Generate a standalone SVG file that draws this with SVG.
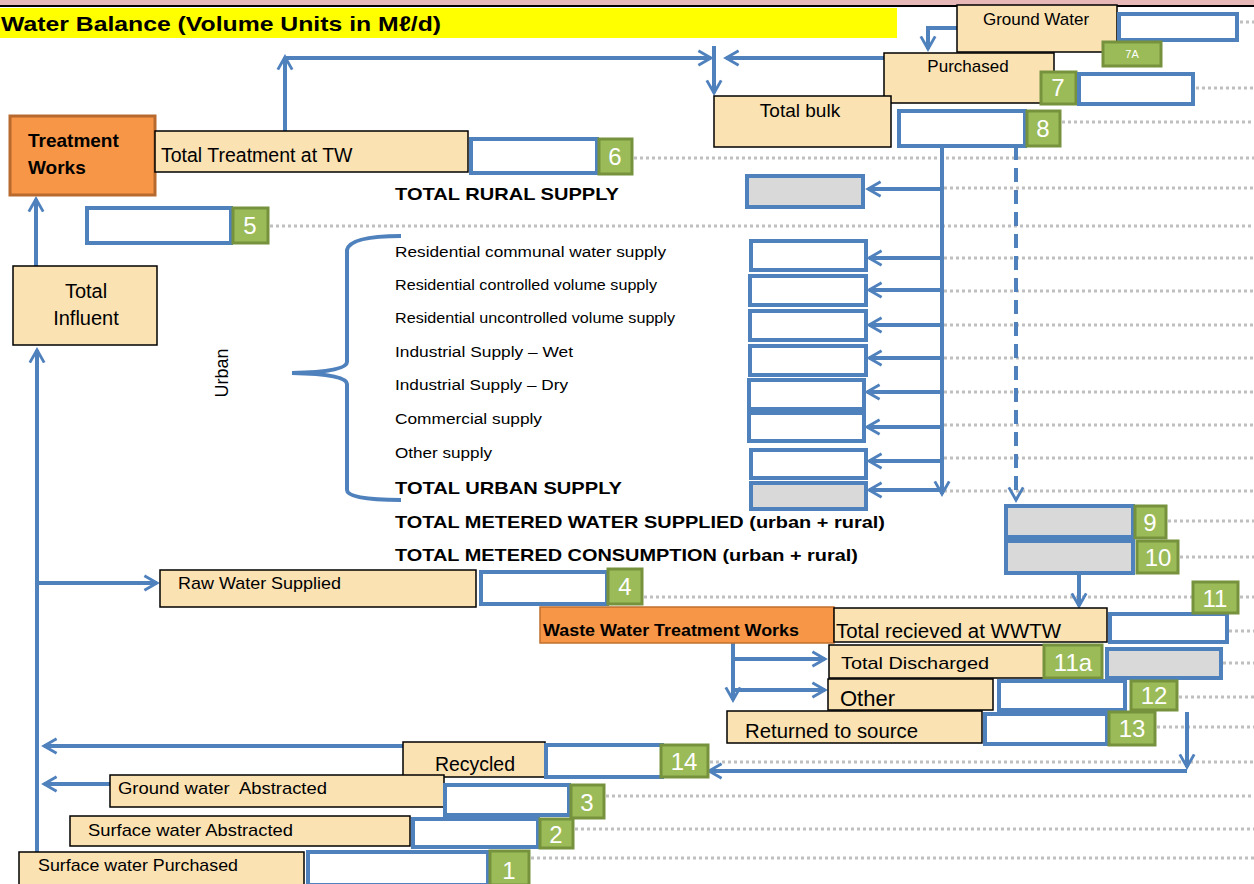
<svg xmlns="http://www.w3.org/2000/svg" width="1254" height="884" viewBox="0 0 1254 884">
<style>
.tan{fill:#FAE2B3;stroke:#000;stroke-width:1.5}
.box{fill:#fff;stroke:#4F81BD;stroke-width:4}
.gbox{fill:#D9D9D9;stroke:#4F81BD;stroke-width:4}
.badge{fill:#9BBB59;stroke:#76923C;stroke-width:3}
.bt{font-family:"Liberation Sans",Arial,sans-serif;fill:#fff;font-size:21px;text-anchor:middle}
.lbl{font-family:"Liberation Sans",Arial,sans-serif;fill:#000;font-size:17px}
.lst{font-family:"Liberation Sans",Arial,sans-serif;fill:#000;font-size:15.5px}
.bold{font-family:"Liberation Sans",Arial,sans-serif;fill:#000;font-size:17px;font-weight:bold}
.arr{fill:none;stroke:#4F81BD;stroke-width:4;marker-end:url(#ah)}
.ln{fill:none;stroke:#4F81BD;stroke-width:4}
.dot{stroke:#BFBFBF;stroke-width:3;stroke-dasharray:3 3;fill:none}
</style>
<defs>
<marker id="ah" viewBox="0 0 10 10" refX="8" refY="5" markerWidth="4.5" markerHeight="4.5" orient="auto" markerUnits="strokeWidth">
<path d="M1,1 L8,5 L1,9" fill="none" stroke="#4F81BD" stroke-width="1.6"/>
</marker>
</defs>
<rect x="0" y="0" width="1254" height="6" fill="#E6B8B7"/>
<line x1="0" y1="6" x2="1254" y2="6" stroke="#000" stroke-width="2"/>
<g id="title">
<rect x="0" y="8" width="897" height="30" fill="#FFFF00"/>
<text x="1" y="31" font-family="Liberation Sans, Arial, sans-serif" font-weight="bold" font-size="21" textLength="440" lengthAdjust="spacingAndGlyphs">Water Balance (Volume Units in Mℓ/d)</text>
</g>
<g id="leaders">
<line class="dot" x1="1240" y1="22" x2="1254" y2="22"/>
<line class="dot" x1="1196" y1="88" x2="1254" y2="88"/>
<line class="dot" x1="1062" y1="122" x2="1254" y2="122"/>
<line class="dot" x1="634" y1="158" x2="1254" y2="158"/>
<line class="dot" x1="944" y1="188" x2="1254" y2="188"/>
<line class="dot" x1="270" y1="226" x2="1254" y2="226"/>
<line class="dot" x1="944" y1="258" x2="1254" y2="258"/>
<line class="dot" x1="944" y1="291" x2="1254" y2="291"/>
<line class="dot" x1="944" y1="325" x2="1254" y2="325"/>
<line class="dot" x1="944" y1="358" x2="1254" y2="358"/>
<line class="dot" x1="944" y1="392" x2="1254" y2="392"/>
<line class="dot" x1="944" y1="425" x2="1254" y2="425"/>
<line class="dot" x1="944" y1="458" x2="1254" y2="458"/>
<line class="dot" x1="944" y1="491" x2="1254" y2="491"/>
<line class="dot" x1="1168" y1="521" x2="1254" y2="521"/>
<line class="dot" x1="1180" y1="557" x2="1254" y2="557"/>
<line class="dot" x1="644" y1="597" x2="1192" y2="597"/>
<line class="dot" x1="1240" y1="597" x2="1254" y2="597"/>
<line class="dot" x1="1229" y1="631" x2="1254" y2="631"/>
<line class="dot" x1="1223" y1="663" x2="1254" y2="663"/>
<line class="dot" x1="1179" y1="697" x2="1254" y2="697"/>
<line class="dot" x1="1157" y1="727" x2="1254" y2="727"/>
<line class="dot" x1="710" y1="762" x2="1254" y2="762"/>
<line class="dot" x1="606" y1="796" x2="1254" y2="796"/>
<line class="dot" x1="575" y1="829" x2="1254" y2="829"/>
<line class="dot" x1="531" y1="858" x2="1254" y2="858"/>
</g>
<g id="connectors">
<path class="arr" d="M110,784 L44,784"/>
<path class="arr" d="M403,746 L44,746"/>
<path class="arr" d="M37,880 L37,350"/>
<path class="arr" d="M37,583 L157,583"/>
<path class="arr" d="M36,266 L36,199"/>
<path class="arr" d="M285,131 L285,57"/>
<path class="arr" d="M285,58 L711,58"/>
<path class="arr" d="M884,58 L726,58"/>
<path class="arr" d="M714,46 L714,93"/>
<path class="arr" d="M957,28 L928,28 L928,49"/>
<path class="arr" d="M942,146 L942,494"/>
<path class="arr" d="M942,189 L868,189"/>
<path class="arr" d="M942,258 L869,258"/>
<path class="arr" d="M942,290 L869,290"/>
<path class="arr" d="M942,325 L869,325"/>
<path class="arr" d="M942,358 L869,358"/>
<path class="arr" d="M942,392 L867,392"/>
<path class="arr" d="M942,427 L867,427"/>
<path class="arr" d="M942,461 L869,461"/>
<path class="arr" d="M942,490 L869,490"/>
<path class="arr" d="M1016,146 L1016,500" stroke-dasharray="14 8"/>
<path class="arr" d="M1079,574 L1079,606"/>
<path class="arr" d="M733,643 L733,700"/>
<path class="arr" d="M733,659 L825,659"/>
<path class="arr" d="M733,690 L825,690"/>
<path class="arr" d="M1187,712 L1187,767"/>
<path class="arr" d="M1187,771 L709,771"/>
<path class="ln" d="M401,236 Q350,236 347,250 L347,362 Q347,372 292,373 Q347,374 347,384 L347,490 Q347,500 401,500"/>
</g>
<g id="ground-water">
<rect class="tan" x="957" y="5" width="160" height="47"/>
<text class="lbl" x="1036" y="25" text-anchor="middle">Ground Water</text>
<rect class="box" x="1119" y="14" width="118" height="26"/>
<rect class="badge" x="1103" y="42" width="58" height="24"/>
<text class="bt" x="1132" y="58" style="font-size:11px">7A</text>
</g>
<g id="purchased">
<rect class="tan" x="884" y="53" width="170" height="50"/>
<text class="lbl" x="968" y="72" text-anchor="middle">Purchased</text>
<rect class="badge" x="1041" y="72" width="35" height="32"/>
<text class="bt" x="1058" y="96" style="font-size:24px">7</text>
<rect class="box" x="1079" y="74" width="114" height="30"/>
</g>
<g id="total-bulk">
<rect class="tan" x="714" y="96" width="177" height="51"/>
<text class="lbl" x="800" y="117" text-anchor="middle" style="font-size:19px">Total bulk</text>
<rect class="box" x="899" y="111" width="126" height="35"/>
<rect class="badge" x="1027" y="111" width="33" height="35"/>
<text class="bt" x="1043" y="137" style="font-size:24px">8</text>
</g>
<g id="treatment-works">
<rect x="10" y="116" width="145" height="79" fill="#F79646" stroke="#B8692E" stroke-width="3"/>
<text class="bold" x="28" y="147" style="font-size:19px">Treatment</text>
<text class="bold" x="28" y="174" style="font-size:19px">Works</text>
</g>
<g id="total-treatment">
<rect class="tan" x="155" y="131" width="313" height="41"/>
<text class="lbl" x="161" y="162" style="font-size:19.5px">Total Treatment at TW</text>
<rect class="box" x="471" y="139" width="126" height="34"/>
<rect class="badge" x="599" y="139" width="33" height="35"/>
<text class="bt" x="615" y="165" style="font-size:24px">6</text>
</g>
<g id="box5">
<rect class="box" x="87" y="208" width="144" height="35"/>
<rect class="badge" x="233" y="208" width="35" height="35"/>
<text class="bt" x="250" y="234" style="font-size:24px">5</text>
</g>
<g id="total-influent">
<rect class="tan" x="13" y="266" width="144" height="79"/>
<text class="lbl" x="86" y="298" text-anchor="middle" style="font-size:20px">Total</text>
<text class="lbl" x="86" y="325" text-anchor="middle" style="font-size:20px">Influent</text>
</g>
<g id="supply-list">
<text class="bold" x="395" y="200" textLength="224" lengthAdjust="spacingAndGlyphs">TOTAL RURAL SUPPLY</text>
<rect class="gbox" x="747" y="176" width="116" height="31"/>
<text class="lst" x="228" y="373" text-anchor="middle" transform="rotate(-90 228 373)" style="font-size:18px">Urban</text>
<text class="lst" x="395" y="257" textLength="271" lengthAdjust="spacingAndGlyphs">Residential communal water supply</text>
<text class="lst" x="395" y="290" textLength="262" lengthAdjust="spacingAndGlyphs">Residential controlled volume supply</text>
<text class="lst" x="395" y="323" textLength="280" lengthAdjust="spacingAndGlyphs">Residential uncontrolled volume supply</text>
<text class="lst" x="395" y="357" textLength="178" lengthAdjust="spacingAndGlyphs">Industrial Supply – Wet</text>
<text class="lst" x="395" y="390" textLength="173" lengthAdjust="spacingAndGlyphs">Industrial Supply – Dry</text>
<text class="lst" x="395" y="424" textLength="147" lengthAdjust="spacingAndGlyphs">Commercial supply</text>
<text class="lst" x="395" y="458" textLength="97" lengthAdjust="spacingAndGlyphs">Other supply</text>
<text class="bold" x="395" y="494" textLength="227" lengthAdjust="spacingAndGlyphs">TOTAL URBAN SUPPLY</text>
<text class="bold" x="395" y="528" textLength="490" lengthAdjust="spacingAndGlyphs">TOTAL METERED WATER SUPPLIED (urban + rural)</text>
<text class="bold" x="395" y="561" textLength="463" lengthAdjust="spacingAndGlyphs">TOTAL METERED CONSUMPTION (urban + rural)</text>
<rect class="box" x="751" y="241" width="115" height="29"/>
<rect class="box" x="750" y="276" width="116" height="29"/>
<rect class="box" x="750" y="311" width="116" height="29"/>
<rect class="box" x="750" y="346" width="116" height="29"/>
<rect class="box" x="749" y="380" width="115" height="29"/>
<rect class="box" x="749" y="413" width="115" height="28"/>
<rect class="box" x="751" y="450" width="115" height="28"/>
<rect class="gbox" x="751" y="483" width="115" height="26"/>
</g>
<g id="metered">
<rect class="gbox" x="1006" y="506" width="127" height="31"/>
<rect class="badge" x="1135" y="506" width="31" height="32"/>
<text class="bt" x="1150" y="531" style="font-size:24px">9</text>
<rect class="gbox" x="1006" y="541" width="127" height="32"/>
<rect class="badge" x="1137" y="541" width="41" height="32"/>
<text class="bt" x="1158" y="566" style="font-size:24px">10</text>
</g>
<g id="raw-water">
<rect class="tan" x="160" y="570" width="316" height="37"/>
<text class="lbl" x="178" y="589" textLength="163" lengthAdjust="spacingAndGlyphs">Raw Water Supplied</text>
<rect class="box" x="481" y="572" width="126" height="32"/>
<rect class="badge" x="608" y="569" width="34" height="35"/>
<text class="bt" x="625" y="595" style="font-size:24px">4</text>
</g>
<g id="wwtw">
<rect x="540" y="607" width="294" height="36" fill="#F79646" stroke="#C0702F" stroke-width="1.5"/>
<text class="bold" x="543" y="636" textLength="256" lengthAdjust="spacingAndGlyphs">Waste Water Treatment Works</text>
</g>
<g id="total-received">
<rect class="tan" x="834" y="608" width="273" height="34"/>
<text class="lbl" x="836" y="638" textLength="225" lengthAdjust="spacingAndGlyphs" style="font-size:20px">Total recieved at WWTW</text>
<rect class="box" x="1110" y="614" width="117" height="28"/>
<rect class="badge" x="1193" y="582" width="45" height="31"/>
<text class="bt" x="1215" y="607" style="font-size:24px">11</text>
</g>
<g id="total-discharged">
<rect class="tan" x="829" y="645" width="216" height="33"/>
<text class="lbl" x="841" y="669" textLength="148" lengthAdjust="spacingAndGlyphs">Total Discharged</text>
<rect class="badge" x="1044" y="645" width="58" height="33"/>
<text class="bt" x="1073" y="671" style="font-size:24px">11a</text>
<rect class="gbox" x="1107" y="649" width="114" height="29"/>
</g>
<g id="other">
<rect class="tan" x="828" y="679" width="165" height="31"/>
<text class="lbl" x="840" y="706" style="font-size:22px">Other</text>
<rect class="box" x="999" y="681" width="126" height="29"/>
<rect class="badge" x="1131" y="681" width="46" height="29"/>
<text class="bt" x="1154" y="704" style="font-size:24px">12</text>
</g>
<g id="returned">
<rect class="tan" x="727" y="711" width="255" height="32"/>
<text class="lbl" x="745" y="738" textLength="173" lengthAdjust="spacingAndGlyphs" style="font-size:20px">Returned to source</text>
<rect class="box" x="985" y="714" width="122" height="30"/>
<rect class="badge" x="1109" y="712" width="46" height="33"/>
<text class="bt" x="1132" y="737" style="font-size:24px">13</text>
</g>
<g id="recycled">
<rect class="tan" x="403" y="742" width="142" height="35"/>
<text class="lbl" x="475" y="771" text-anchor="middle" textLength="80" lengthAdjust="spacingAndGlyphs" style="font-size:20px">Recycled</text>
<rect class="box" x="546" y="745" width="116" height="32"/>
<rect class="badge" x="661" y="745" width="47" height="32"/>
<text class="bt" x="684" y="770" style="font-size:24px">14</text>
</g>
<g id="ground-abstracted">
<rect class="tan" x="110" y="775" width="334" height="32"/>
<text class="lbl" x="118" y="794" xml:space="preserve" textLength="209" lengthAdjust="spacingAndGlyphs">Ground water  Abstracted</text>
<rect class="box" x="445" y="785" width="124" height="30"/>
<rect class="badge" x="571" y="785" width="33" height="33"/>
<text class="bt" x="587" y="811" style="font-size:24px">3</text>
</g>
<g id="surface-abstracted">
<rect class="tan" x="70" y="816" width="340" height="30"/>
<text class="lbl" x="88" y="836" textLength="205" lengthAdjust="spacingAndGlyphs">Surface water Abstracted</text>
<rect class="box" x="413" y="819" width="125" height="28"/>
<rect class="badge" x="540" y="819" width="33" height="29"/>
<text class="bt" x="556" y="843" style="font-size:24px">2</text>
</g>
<g id="surface-purchased">
<rect class="tan" x="19" y="852" width="285" height="33"/>
<text class="lbl" x="38" y="871" textLength="200" lengthAdjust="spacingAndGlyphs">Surface water Purchased</text>
<rect class="box" x="308" y="852" width="180" height="33"/>
<rect class="badge" x="490" y="851" width="39" height="34"/>
<text class="bt" x="509" y="879" style="font-size:24px">1</text>
</g>
</svg>
